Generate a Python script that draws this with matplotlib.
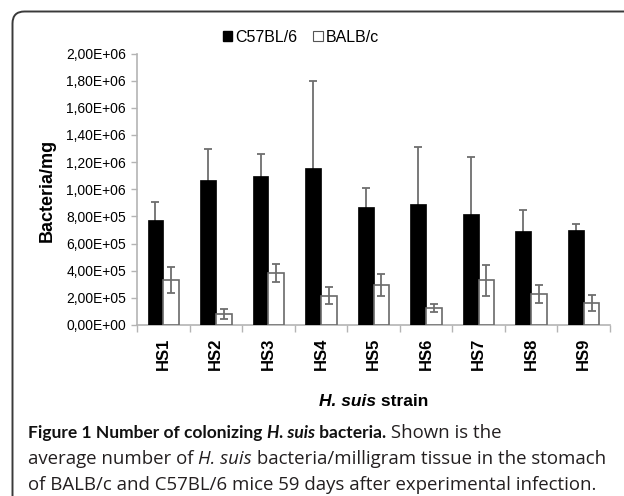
import matplotlib
matplotlib.use("Agg")
import matplotlib.pyplot as plt
from matplotlib.patches import Patch, PathPatch
from matplotlib.path import Path
from matplotlib.transforms import IdentityTransform
from matplotlib.ticker import FuncFormatter, FixedLocator
import numpy as np

# ---- data ----
strains = ["HS1", "HS2", "HS3", "HS4", "HS5", "HS6", "HS7", "HS8", "HS9"]
c57 = [7.75e5, 10.65e5, 10.97e5, 11.55e5, 8.70e5, 8.93e5, 8.15e5, 6.90e5, 6.98e5]
c57_err = [1.30e5, 2.35e5, 1.63e5, 6.40e5, 1.40e5, 4.15e5, 4.23e5, 1.60e5, 0.49e5]
balb = [3.30e5, 0.80e5, 3.86e5, 2.17e5, 2.98e5, 1.25e5, 3.30e5, 2.30e5, 1.63e5]
balb_err = [0.95e5, 0.35e5, 0.66e5, 0.63e5, 0.81e5, 0.27e5, 1.15e5, 0.68e5, 0.59e5]
series_names = ["C57BL/6", "BALB/c"]
y_ticks = [0, 2e5, 4e5, 6e5, 8e5, 1e6, 1.2e6, 1.4e6, 1.6e6, 1.8e6, 2e6]

W, H = 624, 496
DPI = 100
plt.rcParams["font.family"] = ["Liberation Sans", "DejaVu Sans"]

fig = plt.figure(figsize=(W / DPI, H / DPI), dpi=DPI)
fig.patch.set_facecolor("white")

left, right, bottom, top = 137, 610, 325, 53.5
ax = fig.add_axes([left / W, 1 - bottom / H, (right - left) / W, (bottom - top) / H])

x = np.arange(len(strains))
bw = 0.3
axis_gray = "#b4b4b4"
err_gray = "#6e6e6e"

ax.bar(x - bw / 2, c57, width=bw, color="black", edgecolor="black", linewidth=0.5, zorder=3)
ax.errorbar(x - bw / 2, c57, yerr=c57_err, fmt="none", ecolor=err_gray,
            elinewidth=1.3, capsize=3, capthick=1.3, zorder=2)
ax.bar(x + bw / 2, balb, width=bw, color="white", edgecolor="#6a6a6a", linewidth=1.2, zorder=3)
ax.errorbar(x + bw / 2, balb, yerr=balb_err, fmt="none", ecolor=err_gray,
            elinewidth=1.3, capsize=3, capthick=1.3, zorder=4)

ax.set_xlim(-0.5, len(strains) - 0.5)
ax.set_ylim(0, 2e6)
ax.set_yticks(y_ticks)
ax.yaxis.set_major_formatter(FuncFormatter(lambda v, p: f"{v:.2E}".replace(".", ",")))
ax.tick_params(axis="y", direction="out", length=4, width=1, color=axis_gray,
               labelsize=10, pad=4, labelcolor="black")

ax.set_xticks(x)
ax.set_xticklabels(strains, rotation=90, fontsize=12, fontweight="bold")
ax.tick_params(axis="x", which="major", length=0, pad=9)
ax.xaxis.set_minor_locator(FixedLocator(np.arange(-0.5, len(strains), 1.0)))
ax.tick_params(axis="x", which="minor", direction="out", length=5, width=1, color=axis_gray)

for s in ["top", "right"]:
    ax.spines[s].set_visible(False)
for s in ["left", "bottom"]:
    ax.spines[s].set_color(axis_gray)
    ax.spines[s].set_linewidth(1.2)

# legend
handles = [Patch(facecolor="black", edgecolor="black"),
           Patch(facecolor="white", edgecolor="#555555", linewidth=0.8)]
fig.legend(handles, series_names, loc="center", bbox_to_anchor=(301 / W, 1 - 37 / H),
           ncol=2, frameon=False, fontsize=11.5, handlelength=0.6, handleheight=0.6,
           handletextpad=0.2, columnspacing=1.0, borderaxespad=0, borderpad=0)

# y label
fig.text(47 / W, 1 - 190 / H, "Bacteria/mg", rotation=90, ha="center", va="center",
         fontsize=13, fontweight="bold")

fig.canvas.draw()
renderer = fig.canvas.get_renderer()


def place_runs(runs, x0, y0, center=False, **common):
    """runs: list of (text, props). x0,y0 in pixels (y from top). Baseline alignment."""
    texts = []
    widths = []
    for s, props in runs:
        kw = dict(common)
        kw.update(props)
        t = fig.text(0, 0, s, transform=IdentityTransform(), va="baseline", ha="left", **kw)
        bb = t.get_window_extent(renderer)
        texts.append(t)
        widths.append(bb.width)
    total = sum(widths)
    cx = x0 - total / 2 if center else x0
    for t, w in zip(texts, widths):
        t.set_position((cx, H - y0))
        cx += w
    return total


# x label
place_runs([("H. suis", dict(fontweight="bold", fontstyle="italic")),
            (" strain", dict(fontweight="bold"))],
           (left + right) / 2, 406, center=True, fontsize=12.5,
           family=["Liberation Sans", "DejaVu Sans"])

reg_font = ["Open Sans", "DejaVu Sans"]
bold_font = ["Lato", "DejaVu Sans"]
cs = 13.4
bs = 12.5
bcol = "#111111"
ncol = "#231f20"
place_runs([("Figure 1 Number of colonizing ", dict(fontweight="bold", color=bcol, family=bold_font, fontsize=bs)),
            ("H. suis", dict(fontweight="bold", fontstyle="italic", color=bcol, family=bold_font, fontsize=bs)),
            (" bacteria.", dict(fontweight="bold", color=bcol, family=bold_font, fontsize=bs)),
            (" Shown is the", dict(color=ncol))],
           28, 438, fontsize=cs, family=reg_font)
place_runs([("average number of ", dict(color=ncol)),
            ("H. suis", dict(fontstyle="italic", color=ncol)),
            (" bacteria/milligram tissue in the stomach", dict(color=ncol))],
           28, 464, fontsize=cs, family=reg_font)
place_runs([("of BALB/c and C57BL/6 mice 59 days after experimental infection.", dict(color=ncol))],
           28, 490, fontsize=cs, family=reg_font)

# frame: top edge and left edge with a rounded top-left corner, running off the canvas
fx, fy, r = 12.5, H - 11.5, 12
verts = [(W + 20, fy), (fx + r, fy), (fx, fy), (fx, fy - r), (fx, -20)]
codes = [Path.MOVETO, Path.LINETO, Path.CURVE3, Path.CURVE3, Path.LINETO]
frame = PathPatch(Path(verts, codes), transform=IdentityTransform(), facecolor="none",
                  edgecolor="#3a3a3a", linewidth=1.4, clip_on=False)
fig.patches.append(frame)

fig.savefig("out.png", dpi=DPI)
